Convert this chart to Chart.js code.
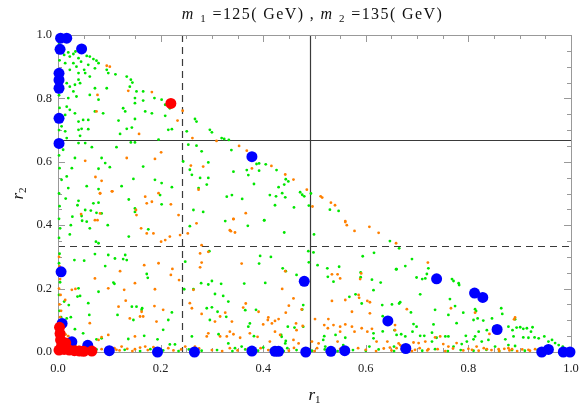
<!DOCTYPE html>
<html>
<head>
<meta charset="utf-8">
<script src="https://cdn.jsdelivr.net/npm/chart.js@4.4.1/dist/chart.umd.min.js"></script>
<style>
  html, body { margin: 0; padding: 0; background: #fff; }
  canvas { display: block; }
</style>
</head>
<body>
<canvas id="chart" width="581" height="406"></canvas>
<script>
// axis ticks and cut lines (r1 / r2 fractions)
const tickValues = [0, 0.2, 0.4, 0.6, 0.8, 1.0];
const minorTicks = [0.05, 0.1, 0.15, 0.25, 0.3, 0.35, 0.45, 0.5, 0.55, 0.65, 0.7, 0.75, 0.85, 0.9, 0.95];
const cutR1 = [0.241, 0.491];   // dashed, solid
const cutR2 = [0.333, 0.670];   // dashed, solid

// big markers
const bluePoints = [
  [0.005, 0.99], [0.017, 0.99], [0.004, 0.955], [0.046, 0.956],
  [0.002, 0.879], [0.002, 0.858], [0.002, 0.832], [0.002, 0.737], [0.002, 0.658],
  [0.378, 0.616], [0.006, 0.253], [0.008, 0.09], [0.027, 0.032], [0.058, 0.021],
  [0.1, 0.004], [0.194, 0.0], [0.266, 0.0], [0.378, 0.003], [0.423, 0.002], [0.43, 0.002],
  [0.483, 0.0], [0.532, 0.002], [0.559, 0.004], [0.48, 0.223], [0.643, 0.098],
  [0.678, 0.011], [0.738, 0.231], [0.812, 0.186], [0.828, 0.172], [0.856, 0.071],
  [0.943, 0.0], [0.956, 0.008], [0.985, 0.0], [0.998, 0.0]
];
const redPoints = [
  [0.22, 0.784], [0.003, 0.078], [0.004, 0.058], [0.005, 0.038], [0.007, 0.02],
  [0.012, 0.008], [0.022, 0.006], [0.032, 0.004], [0.042, 0.003], [0.05, 0.002],
  [0.015, 0.028], [0.066, 0.003], [0.002, 0.006]
];

// small markers
const greenPoints = [
  [0.012, 0.937], [0.02, 0.945], [0.023, 0.932], [0.03, 0.94], [0.034, 0.948], [0.04, 0.927],
  [0.045, 0.916], [0.056, 0.934], [0.062, 0.932], [0.069, 0.924], [0.075, 0.919], [0.079, 0.911],
  [0.059, 0.906], [0.051, 0.89], [0.036, 0.9], [0.03, 0.911], [0.014, 0.911], [0.023, 0.89],
  [0.04, 0.88], [0.053, 0.88], [0.062, 0.869], [0.072, 0.895], [0.095, 0.89], [0.098, 0.88],
  [0.112, 0.876], [0.134, 0.869], [0.142, 0.859], [0.145, 0.85], [0.14, 0.837], [0.153, 0.822],
  [0.166, 0.822], [0.15, 0.801], [0.166, 0.793], [0.188, 0.801], [0.202, 0.796], [0.209, 0.78],
  [0.218, 0.769], [0.209, 0.745], [0.15, 0.785], [0.131, 0.759], [0.127, 0.769], [0.17, 0.759],
  [0.183, 0.753], [0.15, 0.735], [0.118, 0.73], [0.088, 0.753], [0.072, 0.759], [0.059, 0.732],
  [0.049, 0.732], [0.04, 0.727], [0.033, 0.753], [0.023, 0.764], [0.017, 0.774], [0.014, 0.748],
  [0.02, 0.801], [0.03, 0.822], [0.036, 0.806], [0.023, 0.837], [0.033, 0.843], [0.043, 0.848],
  [0.017, 0.848], [0.04, 0.859], [0.072, 0.832], [0.095, 0.832], [0.062, 0.811], [0.079, 0.796],
  [0.007, 0.712], [0.014, 0.696], [0.04, 0.701], [0.046, 0.704], [0.043, 0.682], [0.059, 0.703],
  [0.121, 0.688], [0.134, 0.704], [0.144, 0.708], [0.215, 0.701], [0.222, 0.703], [0.251, 0.696],
  [0.267, 0.735], [0.27, 0.727], [0.296, 0.701], [0.3, 0.693], [0.254, 0.654], [0.27, 0.651],
  [0.28, 0.633], [0.196, 0.67], [0.15, 0.661], [0.142, 0.661], [0.114, 0.646], [0.066, 0.646],
  [0.053, 0.659], [0.04, 0.659], [0.017, 0.675], [0.01, 0.638], [0.033, 0.612], [0.027, 0.58],
  [0.085, 0.612], [0.092, 0.596], [0.079, 0.578], [0.101, 0.583], [0.166, 0.585], [0.147, 0.546],
  [0.189, 0.543], [0.202, 0.533], [0.222, 0.52], [0.124, 0.523], [0.079, 0.514], [0.056, 0.523],
  [0.017, 0.554], [0.007, 0.543], [0.02, 0.517], [0.261, 0.559], [0.277, 0.549], [0.293, 0.549],
  [0.274, 0.517], [0.29, 0.528], [0.244, 0.601], [0.257, 0.575], [0.319, 0.675], [0.324, 0.672],
  [0.293, 0.598],
  [0.333, 0.669], [0.338, 0.637], [0.342, 0.569], [0.368, 0.574], [0.371, 0.558], [0.387, 0.593],
  [0.392, 0.595], [0.392, 0.572], [0.405, 0.592], [0.426, 0.574], [0.382, 0.53], [0.43, 0.52],
  [0.441, 0.528], [0.444, 0.545], [0.449, 0.538], [0.413, 0.495], [0.425, 0.491], [0.437, 0.501],
  [0.443, 0.488], [0.472, 0.504], [0.476, 0.496], [0.48, 0.491], [0.493, 0.5], [0.423, 0.463],
  [0.46, 0.456], [0.489, 0.462], [0.53, 0.449], [0.547, 0.445], [0.329, 0.49], [0.359, 0.483],
  [0.402, 0.415],
  [0.015, 0.484], [0.04, 0.477], [0.038, 0.463], [0.069, 0.469], [0.079, 0.471], [0.064, 0.446],
  [0.075, 0.439], [0.085, 0.437], [0.053, 0.448], [0.046, 0.429], [0.056, 0.411], [0.047, 0.414],
  [0.028, 0.427], [0.025, 0.4], [0.023, 0.371], [0.062, 0.39], [0.097, 0.4], [0.074, 0.348],
  [0.079, 0.343], [0.138, 0.481], [0.15, 0.453], [0.15, 0.442], [0.199, 0.495], [0.202, 0.466],
  [0.176, 0.387], [0.138, 0.364], [0.072, 0.309], [0.098, 0.306], [0.111, 0.295], [0.127, 0.293],
  [0.131, 0.306], [0.134, 0.29], [0.032, 0.29], [0.051, 0.288], [0.092, 0.271], [0.173, 0.246],
  [0.175, 0.234], [0.108, 0.219], [0.11, 0.215], [0.079, 0.19], [0.04, 0.201], [0.038, 0.175],
  [0.043, 0.177], [0.059, 0.154], [0.061, 0.117], [0.025, 0.11], [0.021, 0.148], [0.012, 0.159],
  [0.116, 0.117], [0.144, 0.143], [0.153, 0.143], [0.164, 0.138], [0.163, 0.133], [0.147, 0.101],
  [0.215, 0.101], [0.222, 0.125], [0.205, 0.07], [0.194, 0.04], [0.168, 0.051], [0.137, 0.041],
  [0.218, 0.024], [0.228, 0.024], [0.246, 0.198], [0.264, 0.198], [0.279, 0.217], [0.293, 0.213],
  [0.3, 0.224], [0.318, 0.215], [0.306, 0.183], [0.322, 0.177], [0.332, 0.159], [0.29, 0.138],
  [0.3, 0.141], [0.296, 0.101], [0.311, 0.127], [0.261, 0.049], [0.313, 0.056], [0.248, 0.285],
  [0.264, 0.448], [0.283, 0.442], [0.257, 0.397], [0.295, 0.318], [0.339, 0.495], [0.075, 0.04],
  [0.085, 0.043], [0.049, 0.059], [0.033, 0.072], [0.017, 0.106],
  [0.326, 0.413], [0.37, 0.398], [0.402, 0.416], [0.441, 0.377], [0.499, 0.371], [0.394, 0.303],
  [0.415, 0.3], [0.392, 0.279], [0.438, 0.264], [0.444, 0.255], [0.465, 0.243], [0.363, 0.216],
  [0.404, 0.218], [0.488, 0.318], [0.498, 0.314], [0.489, 0.283], [0.506, 0.274], [0.525, 0.264],
  [0.548, 0.269], [0.526, 0.237], [0.537, 0.222], [0.478, 0.148], [0.476, 0.134], [0.386, 0.133],
  [0.365, 0.132], [0.328, 0.111], [0.374, 0.09], [0.371, 0.08], [0.448, 0.08], [0.461, 0.077],
  [0.478, 0.08], [0.382, 0.05], [0.435, 0.054], [0.436, 0.048], [0.444, 0.035], [0.443, 0.027],
  [0.519, 0.05], [0.517, 0.038], [0.541, 0.054], [0.56, 0.045], [0.556, 0.022], [0.568, 0.174],
  [0.58, 0.182], [0.592, 0.153], [0.59, 0.251], [0.59, 0.236], [0.612, 0.228], [0.615, 0.195],
  [0.629, 0.219], [0.594, 0.302], [0.616, 0.313], [0.647, 0.35], [0.659, 0.261], [0.665, 0.153],
  [0.651, 0.15], [0.632, 0.148], [0.633, 0.113], [0.615, 0.059], [0.615, 0.043], [0.633, 0.065],
  [0.656, 0.069], [0.66, 0.054], [0.655, 0.017], [0.332, 0.027], [0.345, 0.012], [0.358, 0.017],
  [0.4, 0.014], [0.447, 0.012], [0.521, 0.017], [0.607, 0.017],
  [0.665, 0.327], [0.66, 0.261], [0.677, 0.271], [0.69, 0.293], [0.699, 0.235], [0.71, 0.23],
  [0.716, 0.232], [0.719, 0.246], [0.722, 0.264], [0.667, 0.157], [0.706, 0.182], [0.688, 0.125],
  [0.693, 0.088], [0.699, 0.08], [0.691, 0.064], [0.669, 0.056], [0.677, 0.049], [0.706, 0.051],
  [0.714, 0.051], [0.729, 0.061], [0.732, 0.087], [0.735, 0.133], [0.738, 0.045], [0.755, 0.049],
  [0.761, 0.049], [0.729, 0.033], [0.768, 0.23], [0.771, 0.224], [0.781, 0.217], [0.782, 0.211],
  [0.764, 0.167], [0.774, 0.145], [0.761, 0.117], [0.777, 0.091], [0.79, 0.124], [0.795, 0.051],
  [0.813, 0.135], [0.815, 0.129], [0.818, 0.106], [0.81, 0.101], [0.829, 0.099], [0.82, 0.064],
  [0.836, 0.069], [0.846, 0.106], [0.85, 0.08], [0.864, 0.138], [0.866, 0.12], [0.878, 0.08],
  [0.886, 0.069], [0.891, 0.103], [0.894, 0.077], [0.901, 0.078], [0.907, 0.073], [0.914, 0.075],
  [0.922, 0.064], [0.925, 0.078], [0.929, 0.046], [0.917, 0.045], [0.907, 0.046], [0.888, 0.049],
  [0.872, 0.04], [0.839, 0.038], [0.826, 0.033], [0.813, 0.049], [0.81, 0.04], [0.937, 0.043],
  [0.948, 0.049], [0.956, 0.033], [0.963, 0.038], [0.969, 0.028], [0.976, 0.022], [0.984, 0.017],
  [0.891, 0.019], [0.878, 0.022], [0.852, 0.017], [0.787, 0.025], [0.771, 0.017], [0.797, 0.033],
  // bottom strip
  [0.012, 0.004], [0.03, 0.006], [0.055, 0.003], [0.075, 0.008], [0.105, 0.004], [0.13, 0.007],
  [0.16, 0.003], [0.18, 0.009], [0.205, 0.005], [0.235, 0.003], [0.255, 0.008], [0.28, 0.004],
  [0.31, 0.006], [0.34, 0.003], [0.365, 0.008], [0.39, 0.004], [0.415, 0.007], [0.44, 0.003],
  [0.465, 0.006], [0.495, 0.004], [0.52, 0.008], [0.545, 0.003], [0.575, 0.006], [0.6, 0.004],
  [0.625, 0.008], [0.655, 0.003], [0.68, 0.006], [0.71, 0.004], [0.735, 0.009], [0.76, 0.003],
  [0.785, 0.006], [0.81, 0.004], [0.835, 0.007], [0.86, 0.003], [0.885, 0.006], [0.91, 0.004],
  [0.935, 0.007], [0.96, 0.003], [0.985, 0.005],
  // left column
  [0.002, 0.97], [0.003, 0.92], [0.002, 0.81], [0.003, 0.77], [0.002, 0.7], [0.002, 0.62],
  [0.003, 0.58], [0.002, 0.5], [0.003, 0.46], [0.002, 0.42], [0.004, 0.39], [0.002, 0.36],
  [0.003, 0.31], [0.002, 0.28], [0.004, 0.22], [0.002, 0.18], [0.003, 0.13], [0.006, 0.11]
];

const orangePoints = [
  [0.095, 0.903], [0.101, 0.9], [0.077, 0.811], [0.075, 0.759], [0.137, 0.824], [0.183, 0.82],
  [0.243, 0.761], [0.233, 0.73], [0.158, 0.688], [0.262, 0.675], [0.309, 0.666], [0.201, 0.63],
  [0.189, 0.609], [0.134, 0.612], [0.053, 0.603], [0.073, 0.552], [0.085, 0.54], [0.259, 0.588],
  [0.283, 0.585], [0.105, 0.507], [0.082, 0.501], [0.274, 0.512], [0.196, 0.501],
  [0.353, 0.65], [0.368, 0.635], [0.378, 0.579], [0.416, 0.587], [0.443, 0.56], [0.459, 0.544],
  [0.485, 0.512], [0.512, 0.491], [0.515, 0.487], [0.532, 0.471], [0.54, 0.463], [0.496, 0.459],
  [0.366, 0.438], [0.342, 0.42], [0.56, 0.41],
  [0.082, 0.5], [0.106, 0.507], [0.045, 0.435], [0.072, 0.416], [0.077, 0.416], [0.082, 0.437],
  [0.152, 0.448], [0.153, 0.432], [0.17, 0.49], [0.173, 0.469], [0.183, 0.474], [0.22, 0.466],
  [0.235, 0.432], [0.162, 0.39], [0.173, 0.374], [0.186, 0.374], [0.201, 0.348], [0.209, 0.353],
  [0.218, 0.364], [0.238, 0.369], [0.253, 0.374], [0.27, 0.406], [0.196, 0.28], [0.168, 0.274],
  [0.15, 0.217], [0.121, 0.255], [0.072, 0.232], [0.098, 0.201], [0.129, 0.196], [0.189, 0.198],
  [0.223, 0.262], [0.22, 0.243], [0.236, 0.227], [0.277, 0.311], [0.28, 0.282], [0.277, 0.267],
  [0.264, 0.196], [0.257, 0.154], [0.261, 0.138], [0.28, 0.12], [0.163, 0.127], [0.16, 0.112],
  [0.166, 0.112], [0.132, 0.162], [0.118, 0.143], [0.14, 0.106], [0.188, 0.145], [0.205, 0.133],
  [0.192, 0.096], [0.15, 0.049], [0.098, 0.054], [0.085, 0.047], [0.079, 0.038], [0.062, 0.091],
  [0.014, 0.164], [0.027, 0.196], [0.034, 0.199], [0.186, 0.015], [0.17, 0.017], [0.124, 0.017],
  [0.248, 0.017], [0.267, 0.017], [0.293, 0.059], [0.29, 0.049], [0.306, 0.096], [0.316, 0.112],
  [0.326, 0.124], [0.28, 0.337], [0.293, 0.316], [0.316, 0.049], [0.329, 0.049], [0.098, 0.007],
  [0.114, 0.007], [0.15, 0.009],
  [0.342, 0.419], [0.335, 0.384], [0.345, 0.377], [0.337, 0.381], [0.56, 0.413], [0.563, 0.4],
  [0.578, 0.382], [0.607, 0.395], [0.625, 0.376], [0.358, 0.279], [0.443, 0.255], [0.437, 0.199],
  [0.459, 0.169], [0.45, 0.146], [0.444, 0.124], [0.475, 0.134], [0.366, 0.153], [0.361, 0.14],
  [0.391, 0.127], [0.339, 0.096], [0.41, 0.109], [0.409, 0.101], [0.423, 0.098], [0.43, 0.104],
  [0.417, 0.09], [0.4, 0.087], [0.374, 0.059], [0.389, 0.048], [0.423, 0.064], [0.433, 0.054],
  [0.464, 0.09], [0.465, 0.069], [0.477, 0.082], [0.501, 0.104], [0.519, 0.085], [0.527, 0.104],
  [0.526, 0.075], [0.537, 0.085], [0.55, 0.08], [0.56, 0.087], [0.573, 0.08], [0.578, 0.064],
  [0.592, 0.075], [0.603, 0.064], [0.612, 0.073], [0.55, 0.064], [0.534, 0.245], [0.545, 0.245],
  [0.55, 0.232], [0.591, 0.248], [0.589, 0.23], [0.586, 0.18], [0.587, 0.171], [0.56, 0.164],
  [0.534, 0.161], [0.603, 0.161], [0.608, 0.157], [0.573, 0.127], [0.608, 0.122], [0.335, 0.064],
  [0.342, 0.056], [0.355, 0.045], [0.413, 0.033], [0.459, 0.038], [0.469, 0.027], [0.495, 0.033],
  [0.508, 0.027], [0.545, 0.033], [0.621, 0.033], [0.642, 0.033], [0.664, 0.027], [0.647, 0.014],
  [0.66, 0.012], [0.657, 0.085], [0.657, 0.069],
  [0.659, 0.343], [0.721, 0.282], [0.68, 0.135], [0.766, 0.138], [0.813, 0.124], [0.841, 0.057],
  [0.891, 0.109], [0.889, 0.103], [0.735, 0.046], [0.745, 0.049], [0.751, 0.025], [0.777, 0.028],
  [0.816, 0.017], [0.878, 0.012], [0.716, 0.033], [0.703, 0.028], [0.693, 0.03], [0.67, 0.017],
  [0.667, 0.022], [0.761, 0.017], [0.836, 0.009], [0.859, 0.009], [0.885, 0.009], [0.917, 0.007],
  [0.93, 0.009], [0.722, 0.009], [0.696, 0.007], [0.807, 0.007],
  // bottom strip
  [0.045, 0.006], [0.06, 0.012], [0.07, 0.004], [0.085, 0.009], [0.095, 0.002], [0.11, 0.012],
  [0.12, 0.005], [0.135, 0.01], [0.145, 0.003], [0.16, 0.014], [0.175, 0.006], [0.19, 0.01],
  [0.2, 0.003], [0.215, 0.012], [0.225, 0.005], [0.24, 0.008], [0.26, 0.004], [0.275, 0.011],
  [0.3, 0.006], [0.32, 0.003], [0.335, 0.012], [0.35, 0.005], [0.37, 0.009], [0.38, 0.003],
  [0.395, 0.012], [0.41, 0.006], [0.425, 0.01], [0.45, 0.004], [0.46, 0.013], [0.48, 0.007],
  [0.5, 0.003], [0.505, 0.012], [0.53, 0.006], [0.55, 0.01], [0.565, 0.004], [0.585, 0.012],
  [0.6, 0.007], [0.62, 0.003], [0.635, 0.011], [0.65, 0.005], [0.67, 0.009], [0.69, 0.003],
  [0.705, 0.012], [0.72, 0.005], [0.74, 0.009], [0.755, 0.003], [0.77, 0.011], [0.79, 0.005],
  [0.8, 0.01], [0.82, 0.004], [0.83, 0.012], [0.845, 0.006], [0.86, 0.003], [0.87, 0.01],
  [0.88, 0.005], [0.895, 0.003], [0.905, 0.008], [0.92, 0.004], [0.94, 0.006],
  // left column near origin
  [0.002, 0.3], [0.003, 0.27], [0.001, 0.25], [0.004, 0.23], [0.002, 0.2], [0.005, 0.18],
  [0.003, 0.15], [0.006, 0.13], [0.004, 0.11], [0.008, 0.09], [0.006, 0.07], [0.012, 0.06],
  [0.01, 0.045], [0.016, 0.04], [0.022, 0.03], [0.028, 0.026], [0.034, 0.02], [0.04, 0.016],
  [0.048, 0.012], [0.055, 0.009], [0.015, 0.055], [0.02, 0.05], [0.008, 0.035]
];

const toXY = pts => pts.map(p => ({ x: p[0], y: p[1] }));
const SERIF = '"Liberation Serif", "DejaVu Serif", serif';

// draws mixed-style text centred on cx, with optional extra spacing per glyph
function drawRich(ctx, parts, cx, baseline, spacing) {
  spacing = spacing || 0;
  let total = 0;
  parts.forEach(p => {
    ctx.font = p.font;
    p.ws = Array.from(p.t).map(ch => ctx.measureText(ch).width + spacing);
    p.w = p.ws.reduce((s, w) => s + w, 0);
    total += p.w;
  });
  let x = cx - total / 2;
  parts.forEach(p => {
    ctx.font = p.font;
    Array.from(p.t).forEach((ch, i) => {
      ctx.fillText(ch, x, baseline + (p.dy || 0));
      x += p.ws[i];
    });
  });
}

const framePlugin = {
  id: 'frame',
  beforeDatasetsDraw(chart) {
    const ctx = chart.ctx, a = chart.chartArea;
    const xs = chart.scales.x, ys = chart.scales.y;
    ctx.save();
    // cut lines
    ctx.strokeStyle = '#3a3a3a';
    ctx.lineWidth = 1.2;
    cutR1.forEach((v, i) => {
      const px = Math.round(xs.getPixelForValue(v)) + 0.5;
      ctx.setLineDash(i === 0 ? [7, 5] : []);
      ctx.beginPath(); ctx.moveTo(px, a.top); ctx.lineTo(px, a.bottom); ctx.stroke();
    });
    cutR2.forEach((v, i) => {
      const py = Math.round(ys.getPixelForValue(v)) + 0.5;
      ctx.setLineDash(i === 0 ? [7, 5] : []);
      ctx.beginPath(); ctx.moveTo(a.left, py); ctx.lineTo(a.right, py); ctx.stroke();
    });
    ctx.setLineDash([]);
    // frame
    ctx.strokeStyle = '#999';
    ctx.lineWidth = 1;
    ctx.strokeRect(Math.round(a.left) + 0.5, Math.round(a.top) + 0.5,
                   Math.round(a.right - a.left), Math.round(a.bottom - a.top));
    // inside ticks on all four sides
    const tick = (v, len) => {
      const px = Math.round(xs.getPixelForValue(v)) + 0.5;
      const py = Math.round(ys.getPixelForValue(v)) + 0.5;
      ctx.beginPath();
      ctx.moveTo(px, a.bottom); ctx.lineTo(px, a.bottom - len);
      ctx.moveTo(px, a.top); ctx.lineTo(px, a.top + len);
      ctx.moveTo(a.left, py); ctx.lineTo(a.left + len, py);
      ctx.moveTo(a.right, py); ctx.lineTo(a.right - len, py);
      ctx.stroke();
    };
    tickValues.forEach(v => tick(v, 7));
    minorTicks.forEach(v => tick(v, 4));
    ctx.restore();
  },
  afterDraw(chart) {
    const ctx = chart.ctx, a = chart.chartArea;
    const cx = (a.left + a.right) / 2;
    ctx.save();
    ctx.fillStyle = '#111';
    ctx.textBaseline = 'alphabetic';
    const it = 'italic 16px ' + SERIF, rm = '16px ' + SERIF, sb = '11px ' + SERIF;
    drawRich(ctx, [
      { t: 'm', font: it }, { t: ' ', font: rm }, { t: '1', font: sb, dy: 3 },
      { t: ' =125( GeV) , ', font: rm },
      { t: 'm', font: it }, { t: ' ', font: rm }, { t: '2', font: sb, dy: 3 },
      { t: ' =135( GeV)', font: rm }
    ], 312.5, 18.5, 1.4);
    // x axis title
    drawRich(ctx, [
      { t: 'r', font: 'italic 17px ' + SERIF }, { t: '1', font: '11px ' + SERIF, dy: 3 }
    ], cx, 400);
    // y axis title
    ctx.translate(23, (a.top + a.bottom) / 2);
    ctx.rotate(-Math.PI / 2);
    drawRich(ctx, [
      { t: 'r', font: 'italic 17px ' + SERIF }, { t: '2', font: '11px ' + SERIF, dy: 3 }
    ], 0, 0);
    ctx.restore();
  }
};

const tickFont = { family: SERIF, size: 12.5 };
const tickLabel = v => Number(v).toFixed(1);

new Chart(document.getElementById('chart'), {
  type: 'scatter',
  data: {
    datasets: [
      { label: 'red', data: toXY(redPoints), backgroundColor: '#ff0000', borderWidth: 0, pointRadius: 5.5, clip: false },
      { label: 'blue', data: toXY(bluePoints), backgroundColor: '#0000ff', borderWidth: 0, pointRadius: 5.5, clip: false },
      { label: 'orange', data: toXY(orangePoints), backgroundColor: '#ff8000', borderWidth: 0, pointRadius: 1.4, clip: false },
      { label: 'green', data: toXY(greenPoints), backgroundColor: '#00e600', borderWidth: 0, pointRadius: 1.4, clip: false }
    ]
  },
  options: {
    responsive: false,
    animation: false,
    devicePixelRatio: 1,
    layout: { padding: { top: 35, right: 10, left: 0, bottom: 0 } },
    plugins: { legend: { display: false }, tooltip: { enabled: false }, title: { display: false } },
    scales: {
      x: {
        type: 'linear', min: 0, max: 1,
        grid: { display: false, drawTicks: false },
        border: { display: false },
        afterBuildTicks: s => { s.ticks = tickValues.map(v => ({ value: v })); },
        afterFit: s => { s.height = 54; s.paddingLeft = 0; s.paddingRight = 0; },
        ticks: { font: tickFont, color: '#222', maxRotation: 0, padding: 9, callback: tickLabel }
      },
      y: {
        type: 'linear', min: 0, max: 1,
        grid: { display: false, drawTicks: false },
        border: { display: false },
        afterBuildTicks: s => { s.ticks = tickValues.map(v => ({ value: v })); },
        afterFit: s => { s.width = 58; s.paddingTop = 0; s.paddingBottom = 0; },
        ticks: { font: tickFont, color: '#222', padding: 6, callback: tickLabel }
      }
    }
  },
  plugins: [framePlugin]
});
</script>
</body>
</html>
